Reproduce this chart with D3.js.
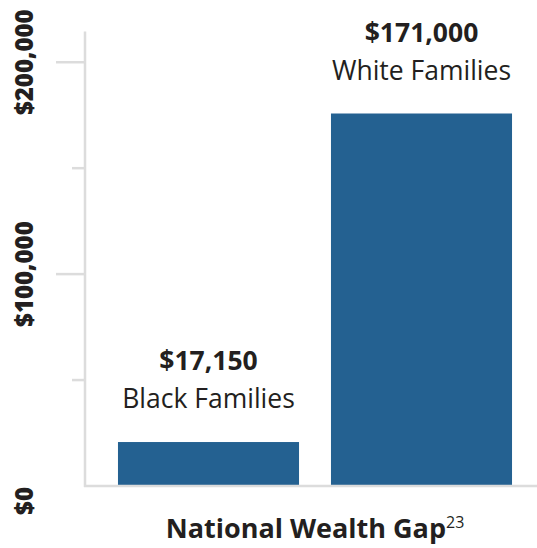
<!DOCTYPE html>
<html>
<head>
<meta charset="utf-8">
<script src="https://cdn.jsdelivr.net/npm/d3@7"></script>
<style>
  body { margin: 0; background: #fff; }
  svg { display: block; font-family: "Open Sans", sans-serif; }
</style>
</head>
<body>
<svg id="chart"></svg>
<script>
// data
const categories = ["Black Families", "White Families"];
const valueLabels = ["$17,150", "$171,000"];
// bar heights as drawn against the axis (the drawn bars sit a bit above the printed values)
const barValues = [20750, 175800];
const majorTicks = [0, 100000, 200000];
const minorTicks = [50000, 150000];
const tickLabels = ["$0", "$100,000", "$200,000"];
const title = "National Wealth Gap";
const footnote = "23";

const svgWidth = 537, svgHeight = 548;
const svg = d3.select("#chart").attr("width", svgWidth).attr("height", svgHeight);

const axisX = 85, baseY = 486;

const y = d3.scaleLinear().domain([0, 214500]).range([baseY, 31.5]);
const x = d3.scaleBand().domain(categories).range([102, 528])
  .paddingInner(0.15).paddingOuter(0.075);

const grey = "#dcdcdc";

// bars
svg.selectAll("rect.bar").data(categories).join("rect")
  .attr("class", "bar")
  .attr("x", d => x(d))
  .attr("width", x.bandwidth())
  .attr("y", (d, i) => y(barValues[i]))
  .attr("height", (d, i) => baseY - y(barValues[i]))
  .attr("fill", "#246191");

// y axis line + ticks
svg.append("line")
  .attr("x1", axisX).attr("x2", axisX)
  .attr("y1", y.range()[1]).attr("y2", baseY + 1)
  .attr("stroke", grey).attr("stroke-width", 2.5);

svg.selectAll("line.major").data(majorTicks.filter(d => d > 0)).join("line")
  .attr("class", "major")
  .attr("x1", axisX - 29).attr("x2", axisX)
  .attr("y1", d => y(d)).attr("y2", d => y(d))
  .attr("stroke", grey).attr("stroke-width", 2.5);

svg.selectAll("line.minor").data(minorTicks).join("line")
  .attr("class", "minor")
  .attr("x1", axisX - 13).attr("x2", axisX)
  .attr("y1", d => y(d)).attr("y2", d => y(d))
  .attr("stroke", grey).attr("stroke-width", 2.5);

// baseline
svg.append("line")
  .attr("x1", axisX - 1).attr("x2", svgWidth)
  .attr("y1", baseY).attr("y2", baseY)
  .attr("stroke", grey).attr("stroke-width", 2.5);

// rotated tick labels ($0 pushed below the baseline)
svg.selectAll("text.ylab").data(majorTicks).join("text")
  .attr("class", "ylab")
  .attr("transform", d => `translate(32.5,${d === 0 ? y(d) + 15 : y(d)}) rotate(-90)`)
  .attr("text-anchor", "middle")
  .attr("font-size", "24px")
  .attr("font-weight", 800)
  .attr("fill", "#231f20")
  .text((d, i) => tickLabels[i]);

// value + category labels over bars
svg.selectAll("text.val").data(categories).join("text")
  .attr("class", "val")
  .attr("x", d => x(d) + x.bandwidth() / 2)
  .attr("y", (d, i) => y(barValues[i]) - 72)
  .attr("text-anchor", "middle")
  .attr("font-size", "26.5px")
  .attr("font-weight", 700)
  .attr("fill", "#231f20")
  .text((d, i) => valueLabels[i]);

svg.selectAll("text.cat").data(categories).join("text")
  .attr("class", "cat")
  .attr("x", d => x(d) + x.bandwidth() / 2)
  .attr("y", (d, i) => y(barValues[i]) - 34)
  .attr("text-anchor", "middle")
  .attr("font-size", "26.5px")
  .attr("fill", "#231f20")
  .text(d => d);

// title
const t = svg.append("text")
  .attr("x", 315).attr("y", 538)
  .attr("text-anchor", "middle")
  .attr("fill", "#231f20");
t.append("tspan").attr("font-size", "27px").attr("font-weight", 700).text(title);
t.append("tspan").attr("font-size", "16px").attr("dy", -10).text(footnote);
</script>
</body>
</html>
